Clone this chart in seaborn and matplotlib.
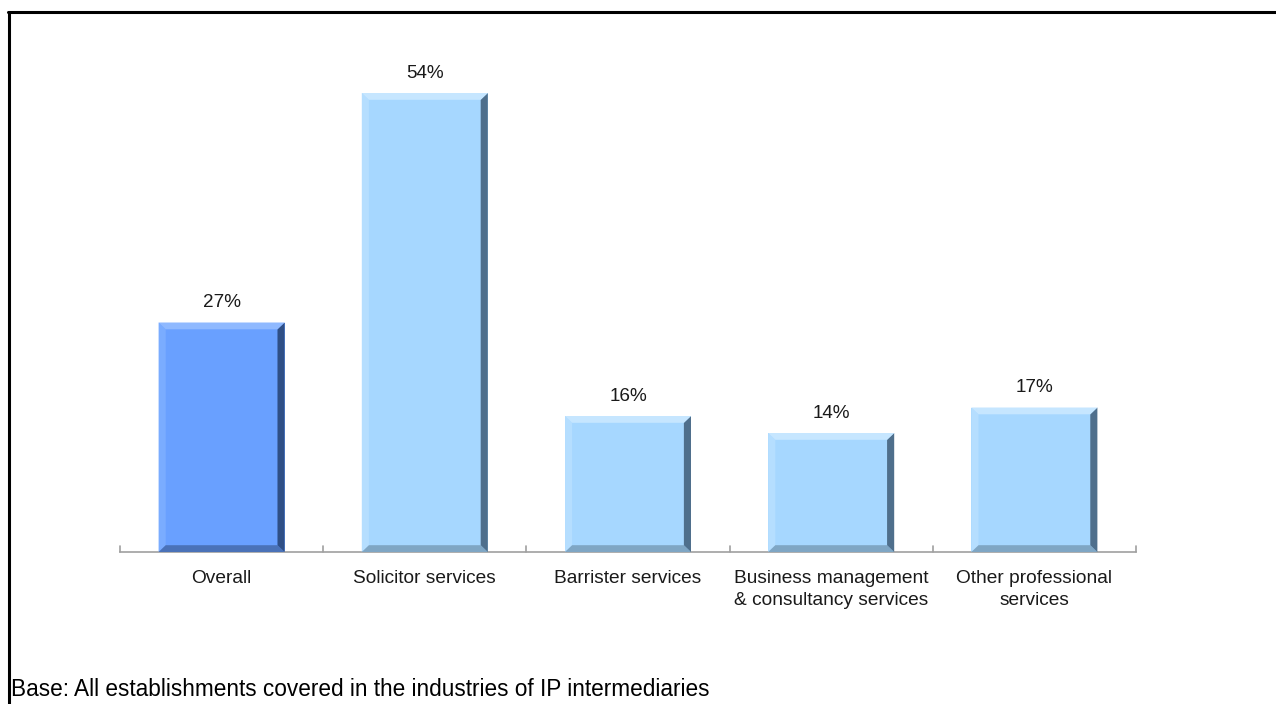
import matplotlib
matplotlib.use("Agg")
import matplotlib.pyplot as plt
import seaborn as sns
import pandas as pd
from matplotlib.patches import Polygon
from matplotlib.lines import Line2D

categories = ["Overall", "Solicitor services", "Barrister services",
              "Business management\n& consultancy services",
              "Other professional\nservices"]
values = [27, 54, 16, 14, 17]
value_labels = ["27%", "54%", "16%", "14%", "17%"]
base_note = "Base: All establishments covered in the industries of IP intermediaries"

main_colors = ["#69A0FF", "#A6D7FF", "#A6D7FF", "#A6D7FF", "#A6D7FF"]
top_colors = ["#8FB9FF", "#C6E6FF", "#C6E6FF", "#C6E6FF", "#C6E6FF"]
left_colors = ["#7AACFF", "#B5DEFF", "#B5DEFF", "#B5DEFF", "#B5DEFF"]
right_colors = ["#2F4F86", "#4F6F8C", "#4F6F8C", "#4F6F8C", "#4F6F8C"]
bottom_colors = ["#4A72B8", "#7FA6C4", "#7FA6C4", "#7FA6C4", "#7FA6C4"]

df = pd.DataFrame({"category": categories, "value": values})

sns.set_style("white")
plt.rcParams['font.family'] = ['Liberation Sans', 'DejaVu Sans']

fig = plt.figure(figsize=(12.76, 7.04), dpi=100)
ax = fig.add_axes([120/1276, (704-552)/704, (1136-120)/1276, (552-42)/704])

sns.barplot(data=df, x="category", y="value", hue="category",
            palette=main_colors, legend=False, width=0.62, ax=ax,
            saturation=1, edgecolor="none", linewidth=0)

ax.set_ylim(0, 60)
ax.set_xlim(-0.5, len(categories) - 0.5)

# bevel effect derived from patch geometry
bx = 0.035
by = 0.8
for i, p in enumerate(ax.patches):
    x0 = p.get_x(); w = p.get_width(); h = p.get_height()
    x1 = x0 + w
    top = [(x0, h), (x1, h), (x1 - bx, h - by), (x0 + bx, h - by)]
    right = [(x1, h), (x1, 0), (x1 - bx, by), (x1 - bx, h - by)]
    bottom = [(x0, 0), (x1, 0), (x1 - bx, by), (x0 + bx, by)]
    left = [(x0, 0), (x0, h), (x0 + bx, h - by), (x0 + bx, by)]
    for poly, c in ((left, left_colors[i]), (bottom, bottom_colors[i]),
                    (right, right_colors[i]), (top, top_colors[i])):
        ax.add_patch(Polygon(poly, closed=True, facecolor=c, edgecolor="none", zorder=3))
    ax.text(x0 + w / 2, h + 1.3, value_labels[i], ha="center", va="bottom",
            fontsize=13.6, color="#1a1a1a")

for s in ("top", "right", "left"):
    ax.spines[s].set_visible(False)
ax.spines["bottom"].set_color("#A0A0A0")
ax.spines["bottom"].set_linewidth(1.2)
ax.set_yticks([])
ax.set_xlabel("")
ax.set_ylabel("")
ax.set_xticks(range(len(categories)))
ax.set_xticklabels(categories, fontsize=13.8, color="#1a1a1a", linespacing=1.35)
ax.tick_params(axis="x", length=0, pad=13)
# boundary ticks pointing up
for b in [i - 0.5 for i in range(len(categories) + 1)]:
    ax.plot([b, b], [0, 0.75], color="#A0A0A0", lw=1.2, clip_on=False, zorder=1)

# frame lines
fig.add_artist(Line2D([9/1276, 9/1276], [0, 1 - 12/704], color="black", lw=2.2,
                      transform=fig.transFigure))
fig.add_artist(Line2D([8/1276, 1], [1 - 12/704, 1 - 12/704], color="black", lw=2.2,
                      transform=fig.transFigure))

fig.text(11/1276, 1 - 696/704, base_note, fontsize=16.3, color="black",
         ha="left", va="baseline")

fig.savefig("out.png", dpi=100, facecolor="white")
